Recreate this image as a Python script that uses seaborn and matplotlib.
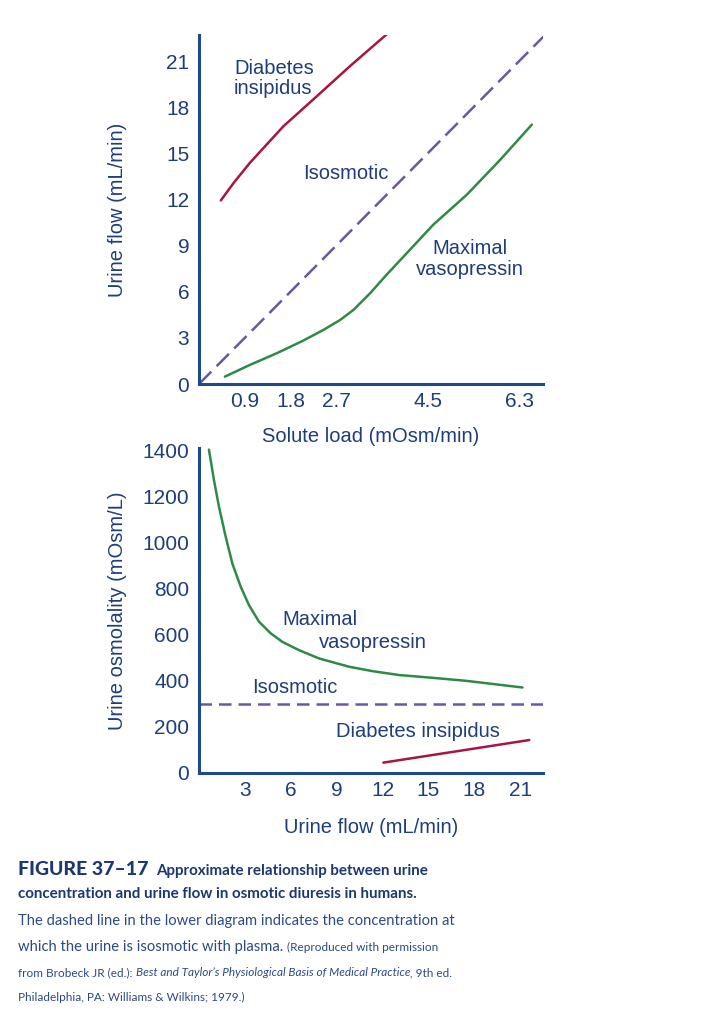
import numpy as np
import pandas as pd
import matplotlib
matplotlib.use('Agg')
import matplotlib.pyplot as plt
import seaborn as sns

# ----------------- top panel: urine flow vs solute load -----------------
iso_load = [0.0, 6.78]
iso_flow = [0.0, 22.6]

di_load = [0.43, 0.68, 1.0, 1.66, 2.32, 2.97, 3.73]
di_flow = [11.94, 13.07, 14.38, 16.76, 18.72, 20.67, 22.85]

mv_load = [0.51, 1.0, 1.53, 2.05, 2.45, 2.78, 3.04, 3.37, 3.69, 4.12,
           4.61, 5.27, 5.93, 6.55]
mv_flow = [0.48, 1.24, 2.0, 2.82, 3.52, 4.17, 4.82, 5.91, 7.1, 8.62,
           10.36, 12.31, 14.59, 16.87]

top_xticks = [0.9, 1.8, 2.7, 4.5, 6.3]
top_xticklabels = ['0.9', '1.8', '2.7', '4.5', '6.3']
top_yticks = [0, 3, 6, 9, 12, 15, 18, 21]

# ----------------- bottom panel: osmolality vs urine flow ---------------
mv2_flow = [0.65, 0.98, 1.31, 1.75, 2.18, 2.73, 3.27, 3.93, 4.69, 5.45,
            6.54, 7.85, 9.82, 11.34, 13.09, 15.27, 17.45, 21.16]
mv2_osm = [1403, 1270, 1154, 1024, 909, 808, 728, 656, 606, 569,
           533, 497, 461, 442, 425, 413, 400, 371]

iso2_flow = [0.0, 22.5]
iso2_osm = [299, 299]

di2_flow = [12.06, 21.6]
di2_osm = [45, 143]

bot_xticks = [3, 6, 9, 12, 15, 18, 21]
bot_yticks = [0, 200, 400, 600, 800, 1000, 1200, 1400]

# -----------------------------------------------------------------------------
NAVY = '#1e3d7b'
AXIS = '#1d4a8a'
GREEN = '#2f8a45'
RED = '#a8163f'
PURPLE = '#6b56a3'
CAP_BOLD = '#1b3870'
CAP_REG = '#2a4a85'

sns.set_theme(style='white')
plt.rcParams['font.family'] = ['Liberation Sans', 'DejaVu Sans']

fig = plt.figure(figsize=(7.24, 10.24), dpi=100)
ax1 = fig.add_axes([199/724, 1-384/1024, 344/724, 349/1024])
ax2 = fig.add_axes([199/724, 1-773/1024, 344/724, 325/1024])


def style_axes(ax):
    for side in ['top', 'right']:
        ax.spines[side].set_visible(False)
    for side in ['left', 'bottom']:
        ax.spines[side].set_color(AXIS)
        ax.spines[side].set_linewidth(2.2)
    ax.tick_params(axis='both', direction='in', length=5, width=1.6,
                   color=AXIS, labelcolor=NAVY, labelsize=15)
    ax.tick_params(axis='y', pad=7)
    ax.tick_params(axis='x', pad=6)
    ax.grid(False)
    ax.set_facecolor('white')


# top panel
sns.lineplot(x=iso_load, y=iso_flow, ax=ax1, color=PURPLE, lw=1.8,
             estimator=None, sort=False)
ax1.lines[-1].set_dashes((7, 3))
sns.lineplot(x=di_load, y=di_flow, ax=ax1, color=RED, lw=1.8,
             estimator=None, sort=False)
sns.lineplot(x=mv_load, y=mv_flow, ax=ax1, color=GREEN, lw=1.8,
             estimator=None, sort=False)
ax1.set_xlim(0, 6.77)
ax1.set_ylim(0, 22.7)
ax1.set_xticks(top_xticks)
ax1.set_xticklabels(top_xticklabels)
ax1.set_yticks(top_yticks)
style_axes(ax1)
ax1.set_xlabel('Solute load (mOsm/min)', color=NAVY, fontsize=14.5)
ax1.set_ylabel('Urine flow (mL/min)', color=NAVY, fontsize=14.5)
ax1.xaxis.set_label_coords(0.5, -0.123)
ax1.yaxis.set_label_coords(-0.209, 0.5)

lab = dict(color=NAVY, fontsize=14.5, va='center', linespacing=1.12)
ax1.text(0.69, 19.87, 'Diabetes\ninsipidus', ha='left', **lab)
ax1.text(2.05, 13.68, 'Isosmotic', ha='left', **lab)
ax1.text(5.33, 8.14, 'Maximal\nvasopressin', ha='center', **lab)

# bottom panel
sns.lineplot(x=mv2_flow, y=mv2_osm, ax=ax2, color=GREEN, lw=1.8,
             estimator=None, sort=False)
sns.lineplot(x=iso2_flow, y=iso2_osm, ax=ax2, color=PURPLE, lw=1.8,
             estimator=None, sort=False)
ax2.lines[-1].set_dashes((5, 2.8))
sns.lineplot(x=di2_flow, y=di2_osm, ax=ax2, color=RED, lw=1.8,
             estimator=None, sort=False)
ax2.set_xlim(0, 22.5)
ax2.set_ylim(0, 1410)
ax2.set_xticks(bot_xticks)
ax2.set_yticks(bot_yticks)
style_axes(ax2)
ax2.set_xlabel('Urine flow (mL/min)', color=NAVY, fontsize=14.5)
ax2.set_ylabel('Urine osmolality (mOsm/L)', color=NAVY, fontsize=14.5)
ax2.xaxis.set_label_coords(0.5, -0.138)
ax2.yaxis.set_label_coords(-0.209, 0.5)

ax2.text(5.43, 667, 'Maximal', ha='left', **lab)
ax2.text(7.85, 568, 'vasopressin', ha='left', **lab)
ax2.text(3.47, 373, 'Isosmotic', ha='left', **lab)
ax2.text(8.97, 182, 'Diabetes insipidus', ha='left', **lab)

# caption ---------------------------------------------------------------------
renderer = fig.canvas.get_renderer()
W, H = 724.0, 1024.0


def put_run(x_px, base_px, parts):
    '''writes text pieces one after another on a single baseline'''
    x = x_px
    for text, kw, gap in parts:
        t = fig.text(x / W, 1 - base_px / H, text, va='baseline', ha='left',
                     family=['Lato', 'DejaVu Sans'], **kw)
        bb = t.get_window_extent(renderer=renderer)
        x = bb.x1 + gap


bold_big = dict(fontsize=14, fontweight='black', color=CAP_BOLD)
bold = dict(fontsize=10.9, fontweight='bold', color=CAP_BOLD)
reg = dict(fontsize=10.6, color=CAP_REG)
small = dict(fontsize=8.5, color=CAP_REG)
small_it = dict(fontsize=8.5, color=CAP_REG, style='italic')

put_run(18, 875, [('FIGURE 37\u201317', bold_big, 8),
                  ('Approximate relationship between urine', bold, 0)])
put_run(18, 898, [('concentration and urine flow in osmotic diuresis in humans.',
                   bold, 0)])
put_run(18, 925, [('The dashed line in the lower diagram indicates the '
                   'concentration at', reg, 0)])
put_run(18, 951, [('which the urine is isosmotic with plasma.', reg, 4),
                  ('(Reproduced with permission', small, 0)])
put_run(18, 976, [('from Brobeck JR (ed.):', small, 3),
                  ('Best and Taylor\u2019s Physiological Basis of Medical '
                   'Practice', small_it, 0),
                  (', 9th ed.', small, 0)])
put_run(18, 1001, [('Philadelphia, PA: Williams & Wilkins; 1979.)', small, 0)])

fig.savefig('out.png', dpi=100, facecolor='white')
